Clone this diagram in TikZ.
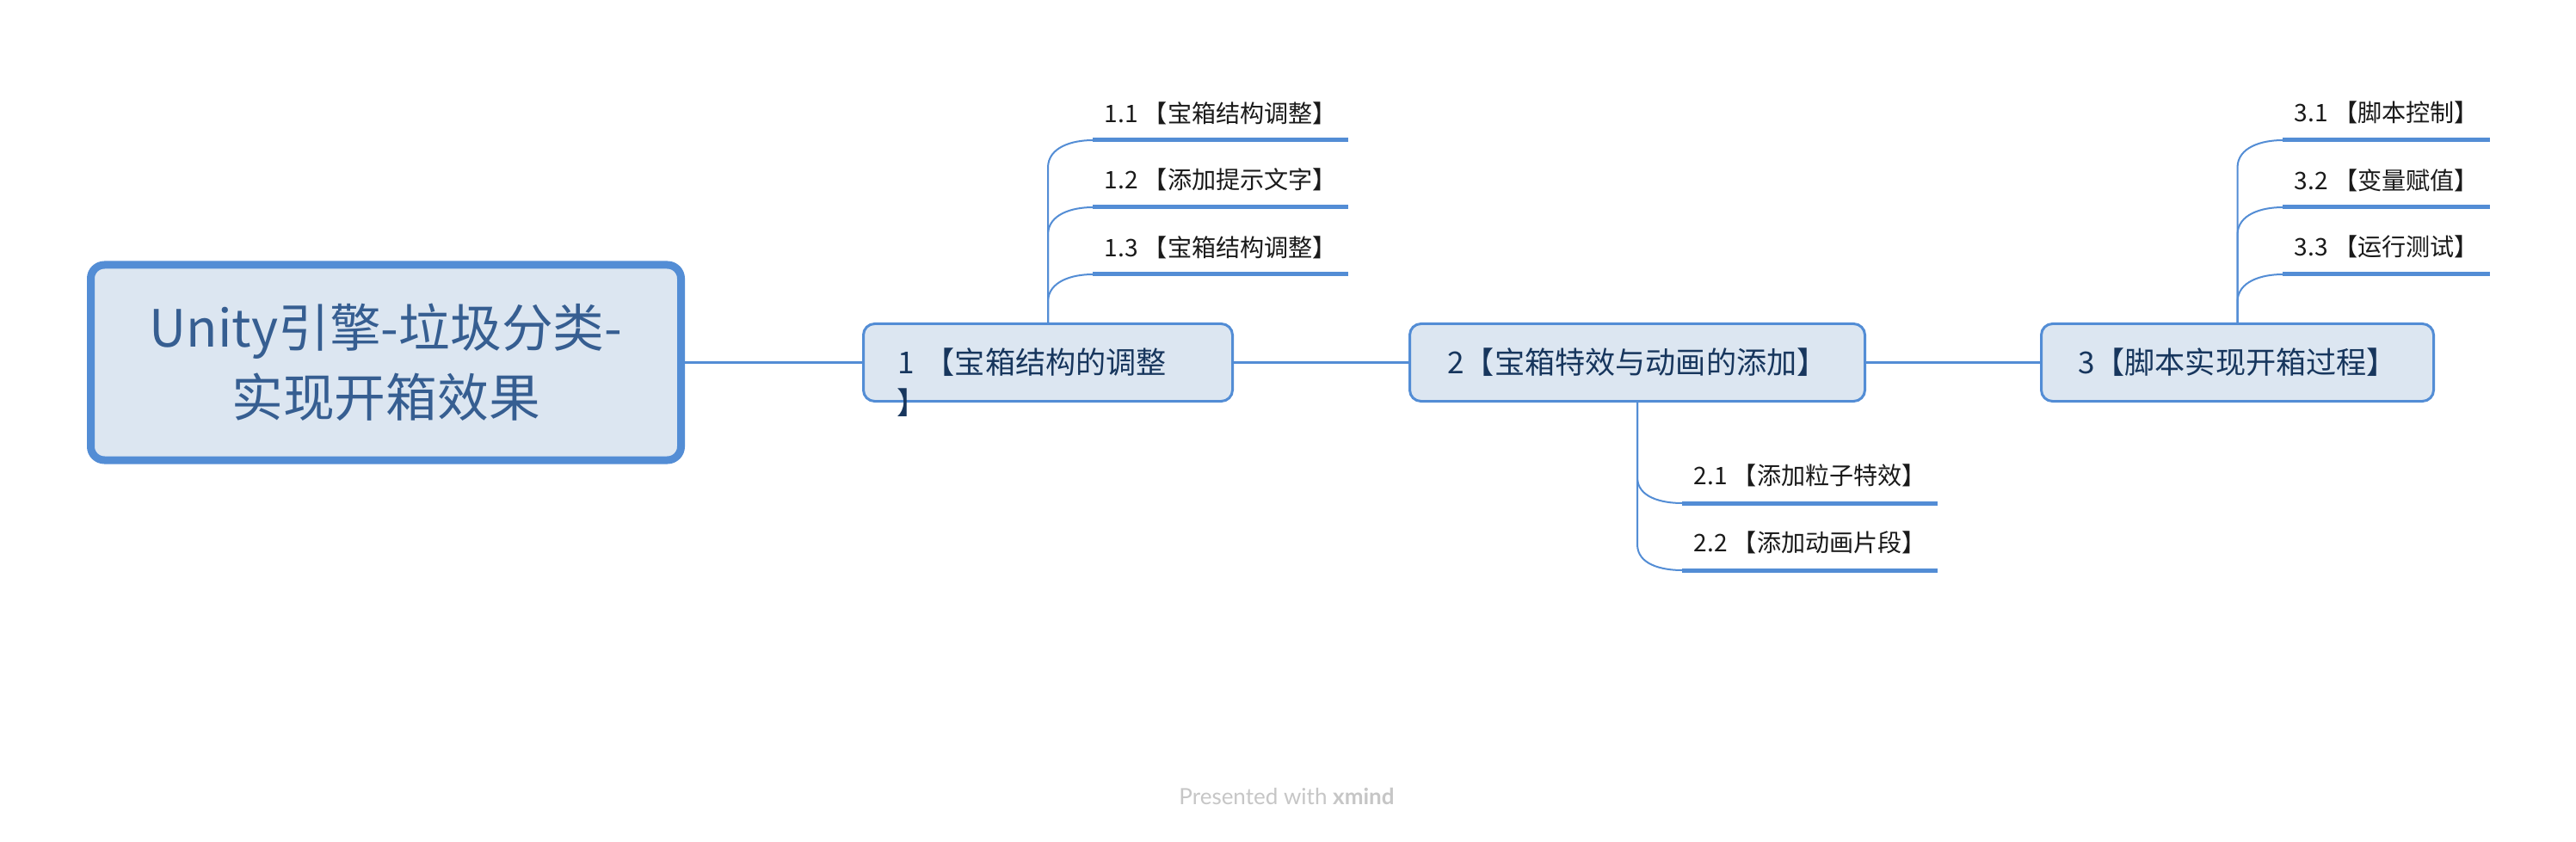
\documentclass[tikz,border=0pt]{standalone}
\usepackage{fontspec}
\usepackage{tikz}
\usetikzlibrary{calc}
\usepackage{xcolor}
\newfontfamily\cjk{Noto Sans CJK SC}
\newfontfamily\footfont{Lato}
\definecolor{mapblue}{RGB}{83, 141, 213}
\definecolor{mapfill}{RGB}{220, 230, 241}
\definecolor{centraltext}{RGB}{54, 94, 145}
\definecolor{topictext}{RGB}{23, 54, 93}
\definecolor{textdark}{RGB}{26, 26, 26}
\definecolor{creditgray}{RGB}{198, 198, 198}

\begin{document}
\begin{tikzpicture}[
    central/.style={rectangle, draw=mapblue, fill=mapfill, rounded corners=4.5pt, line width=0.09cm, minimum width=6.86cm, minimum height=2.27cm, align=center, text=centraltext, font=\cjk\fontsize{17pt}{23pt}\selectfont},
    topic/.style={rectangle, draw=mapblue, fill=mapfill, rounded corners=3.7pt, line width=0.03cm, minimum height=0.90cm, inner xsep=0.40cm, text=topictext, font=\cjk\fontsize{10pt}{12pt}\selectfont},
    wraptext/.style={inner sep=0pt, anchor=west, text=topictext, font=\cjk\fontsize{10pt}{12pt}\selectfont},
    subtopic/.style={anchor=south west, inner sep=0pt, minimum width=2.96cm, minimum height=0.62cm, text=textdark, font=\cjk\fontsize{8pt}{10pt}\selectfont},
    link/.style={draw=mapblue, line width=0.02cm},
    subline/.style={draw=mapblue, line width=0.05cm},
]
\useasboundingbox[fill=white] (0,0) rectangle (29.94,9.78);

% Central topic
\node[central] (root) at (4.485, 5.565) {Unity引擎-垃圾分类-\\实现开箱效果};

% Main topics
\node[topic, minimum width=4.29cm, text width=3.49cm, align=left] (t1) at (12.18, 5.565) {1 【宝箱结构的调整};
\node[wraptext] (t1end) at ([xshift=0.40cm, yshift=-0.465cm]t1.west) {】};
\node[topic, minimum width=5.29cm] (t2) at (19.03, 5.565) {2【宝箱特效与动画的添加】};
\node[topic, minimum width=4.56cm] (t3) at (26.005, 5.565) {3【脚本实现开箱过程】};

\draw[link] (root) -- (t1);
\draw[link] (t1) -- (t2);
\draw[link] (t2) -- (t3);

% Subtopics of 1
\node[subtopic] (s11) at (12.70, 8.15) {1.1 【宝箱结构调整】};
\node[subtopic] (s12) at (12.70, 7.37) {1.2 【添加提示文字】};
\node[subtopic] (s13) at (12.70, 6.59) {1.3 【宝箱结构调整】};

\draw[link] (t1.north) -- ($(t1.north |- s11.south west)+(0,-0.32)$) to[out=90, in=180] (s11.south west);
\draw[link] (t1.north) -- ($(t1.north |- s12.south west)+(0,-0.32)$) to[out=90, in=180] (s12.south west);
\draw[link] (t1.north) -- ($(t1.north |- s13.south west)+(0,-0.32)$) to[out=90, in=180] (s13.south west);
\draw[subline] (s11.south west) -- (s11.south east);
\draw[subline] (s12.south west) -- (s12.south east);
\draw[subline] (s13.south west) -- (s13.south east);

% Subtopics of 2
\node[subtopic] (s21) at (19.55, 3.93) {2.1 【添加粒子特效】};
\node[subtopic] (s22) at (19.55, 3.15) {2.2 【添加动画片段】};

\draw[link] (t2.south) -- ($(t2.south |- s21.south west)+(0,0.30)$) to[out=-90, in=180] (s21.south west);
\draw[link] (t2.south) -- ($(t2.south |- s22.south west)+(0,0.30)$) to[out=-90, in=180] (s22.south west);
\draw[subline] (s21.south west) -- (s21.south east);
\draw[subline] (s22.south west) -- (s22.south east);

% Subtopics of 3
\node[subtopic, minimum width=2.40cm] (s31) at (26.53, 8.15) {3.1 【脚本控制】};
\node[subtopic, minimum width=2.40cm] (s32) at (26.53, 7.37) {3.2 【变量赋值】};
\node[subtopic, minimum width=2.40cm] (s33) at (26.53, 6.59) {3.3 【运行测试】};

\draw[link] (t3.north) -- ($(t3.north |- s31.south west)+(0,-0.32)$) to[out=90, in=180] (s31.south west);
\draw[link] (t3.north) -- ($(t3.north |- s32.south west)+(0,-0.32)$) to[out=90, in=180] (s32.south west);
\draw[link] (t3.north) -- ($(t3.north |- s33.south west)+(0,-0.32)$) to[out=90, in=180] (s33.south west);
\draw[subline] (s31.south west) -- (s31.south east);
\draw[subline] (s32.south west) -- (s32.south east);
\draw[subline] (s33.south west) -- (s33.south east);

% Credit
\node[text=creditgray, font=\footfont\fontsize{7.4pt}{9pt}\selectfont] (credit) at (14.955, 0.52) {Presented with \textbf{xmind}};

\end{tikzpicture}
\end{document}
